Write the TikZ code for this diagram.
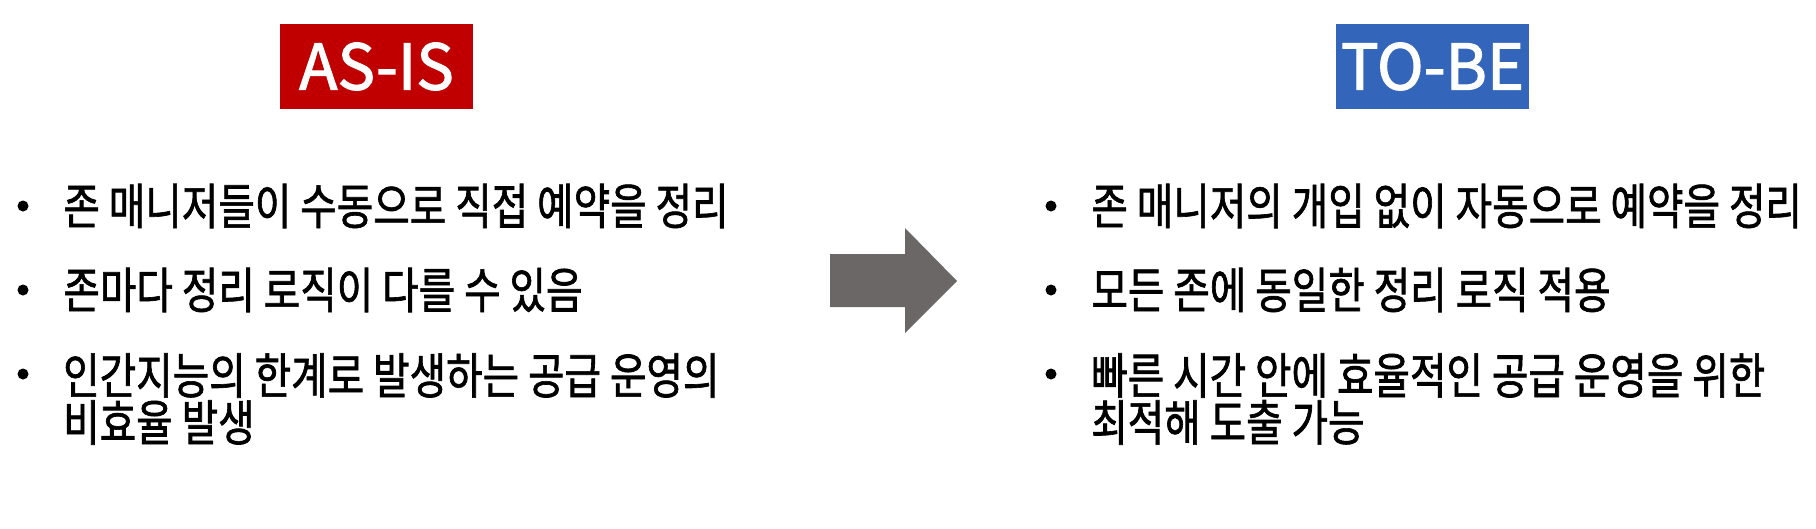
\documentclass[tikz,border=0pt]{standalone}
\usepackage{fontspec}
\newfontfamily\krfont{Noto Sans CJK KR}[FakeStretch=0.81, FakeBold=1.3]
\newfontfamily\tagfont{Noto Sans CJK KR}[FakeBold=1.8]
\usetikzlibrary{positioning}
\definecolor{asisred}{HTML}{C00000}
\definecolor{tobeblue}{HTML}{3366BB}
\definecolor{arrowgray}{HTML}{6B6766}

\tikzset{
  tag/.style={minimum width=193pt, minimum height=85pt, inner sep=0pt, text=white,
              font=\tagfont\fontsize{63}{63}\selectfont},
  dot/.style={circle, fill=black, inner sep=0pt, minimum size=11pt},
  item/.style={anchor=west, inner sep=0pt, align=left,
               font=\krfont\fontsize{49}{47}\selectfont},
}

\begin{document}
\begin{tikzpicture}[x=1pt, y=-1pt, node distance=34.5pt]
  \useasboundingbox (0,0) rectangle (1816,528);

  % headers
  \node[tag, fill=asisred]  (asis) at (376.5,66.5)  {AS-IS};
  \node[tag, fill=tobeblue] (tobe) at (1432.5,66.5) {TO-BE};

  % as-is
  \node[dot] (a1) at (23,206) {};
  \node[dot] (a2) at (23,290) {};
  \node[dot] (a3) at (23,374) {};
  \node[item] (ta1) [right=of a1] {존 매니저들이 수동으로 직접 예약을 정리};
  \node[item] (ta2) [right=of a2] {존마다 정리 로직이 다를 수 있음};
  \node[item] (ta3) at (63,399) {인간지능의 한계로 발생하는 공급 운영의\\비효율 발생};

  % arrow
  \fill[arrowgray] (830,254) -- (905,254) -- (905,228) -- (957,281)
                   -- (905,333) -- (905,307) -- (830,307) -- cycle;

  % to-be
  \node[dot] (b1) at (1051,206) {};
  \node[dot] (b2) at (1051,290) {};
  \node[dot] (b3) at (1051,374) {};
  \node[item] (tb1) [right=of b1] {존 매니저의 개입 없이 자동으로 예약을 정리};
  \node[item] (tb2) [right=of b2] {모든 존에 동일한 정리 로직 적용};
  \node[item] (tb3) at (1091,399) {빠른 시간 안에 효율적인 공급 운영을 위한\\최적해 도출 가능};
\end{tikzpicture}
\end{document}
